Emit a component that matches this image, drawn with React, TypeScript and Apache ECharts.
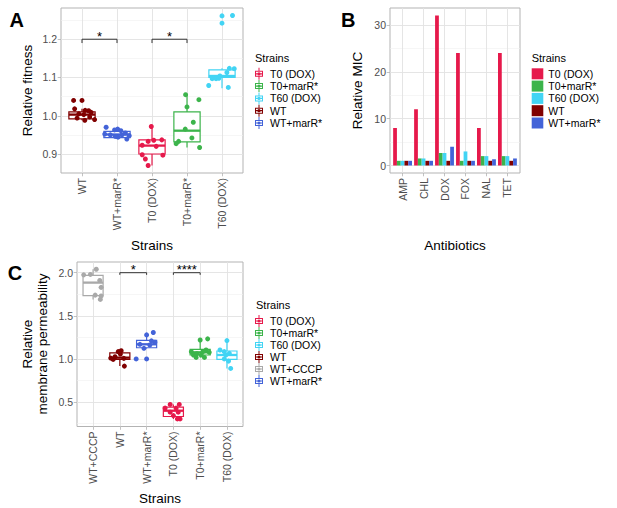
import React, { useEffect, useRef } from 'react';
import * as echarts from 'echarts';

const FONT = '"Liberation Sans", Arial, Helvetica, sans-serif';

// ---------- colours per strain ----------
const strainNames = ['T0 (DOX)', 'T0+marR*', 'T60 (DOX)', 'WT', 'WT+CCCP', 'WT+marR*'];
const strainColors = ['#E6194B', '#3CB44B', '#42D4F4', '#800000', '#A9A9A9', '#4363D8'];
const colorOf = (n: string) => strainColors[strainNames.indexOf(n)];

// ---------- Panel A: relative fitness ----------
const fitnessStrains = ['WT', 'WT+marR*', 'T0 (DOX)', 'T0+marR*', 'T60 (DOX)'];
const fitnessTicks = [0.9, 1.0, 1.1, 1.2];
const fitnessMinor = [0.95, 1.05, 1.15, 1.25];
// box summaries: [lower whisker, Q1, median, Q3, upper whisker]
const fitBoxWT = [0.988, 0.992, 1.003, 1.01, 1.018];
const fitBoxWTmarR = [0.939, 0.943, 0.951, 0.959, 0.97];
const fitBoxT0 = [0.87, 0.9, 0.922, 0.937, 0.972];
const fitBoxT0marR = [0.917, 0.932, 0.961, 1.01, 1.055];
const fitBoxT60 = [1.072, 1.1, 1.104, 1.12, 1.124];
// individual replicates and their jitter offsets (category units)
const fitPtsWT = [1.04, 1.04, 1.018, 1.014, 1.013, 1.009, 1.005, 1.003, 0.994, 0.988, 0.99, 0.997];
const fitJitWT = [-0.24, 0.0, -0.21, 0.09, 0.19, 0.26, -0.09, 0.05, -0.14, 0.08, 0.36, 0.22];
const fitPtsWTmarR = [0.97, 0.963, 0.965, 0.961, 0.952, 0.95, 0.95, 0.955, 0.948, 0.944, 0.939, 0.946];
const fitJitWTmarR = [-0.31, -0.07, 0.02, 0.11, -0.35, -0.19, 0.14, 0.24, 0.35, 0.03, 0.28, -0.05];
const fitPtsT0 = [0.972, 0.933, 0.936, 0.937, 0.923, 0.92, 0.898, 0.897, 0.887, 0.87];
const fitJitT0 = [-0.02, -0.11, 0.05, 0.28, -0.28, 0.12, -0.28, 0.31, -0.19, -0.11];
const fitPtsT0marR = [1.055, 1.042, 1.023, 0.983, 0.965, 0.942, 0.933, 0.927, 0.917];
const fitJitT0marR = [-0.04, 0.34, 0.0, 0.18, -0.05, 0.14, -0.24, -0.31, 0.36];
const fitPtsT60 = [1.261, 1.262, 1.242, 1.079, 1.074, 1.097, 1.097, 1.098, 1.113, 1.124, 1.123, 1.104];
const fitJitT60 = [0.0, 0.3, 0.0, -0.38, 0.18, -0.28, -0.17, -0.09, 0.14, 0.21, 0.35, -0.06];
const sigAFrom = [1, 3];
const sigATo = [2, 4];
const sigAY = [1.2, 1.2];
const sigALabel = ['*', '*'];

// ---------- Panel B: relative MIC ----------
const antibiotics = ['AMP', 'CHL', 'DOX', 'FOX', 'NAL', 'TET'];
const micStrains = ['T0 (DOX)', 'T0+marR*', 'T60 (DOX)', 'WT', 'WT+marR*'];
const micT0 = [8, 12, 32, 24, 8, 24];
const micT0marR = [1, 1.5, 2.67, 1, 2, 2];
const micT60 = [1, 1.5, 2.67, 3, 2, 2];
const micWT = [1, 1, 1, 1, 1, 1];
const micWTmarR = [1, 1, 4, 1, 1.33, 1.5];
const micTicks = [0, 10, 20, 30];
const micMinor = [5, 15, 25];

// ---------- Panel C: membrane permeability ----------
const permStrains = ['WT+CCCP', 'WT', 'WT+marR*', 'T0 (DOX)', 'T0+marR*', 'T60 (DOX)'];
const permTicks = [0.5, 1.0, 1.5, 2.0];
const permMinor = [0.25, 0.75, 1.25, 1.75];
const permBoxCCCP = [1.69, 1.735, 1.885, 1.97, 2.04];
const permBoxWT = [0.917, 0.995, 1.015, 1.07, 1.096];
const permBoxWTmarR = [1.12, 1.13, 1.17, 1.215, 1.3];
const permBoxT0 = [0.305, 0.333, 0.4, 0.442, 0.473];
const permBoxT0marR = [1.018, 1.046, 1.077, 1.112, 1.22];
const permBoxT60 = [0.89, 0.995, 1.046, 1.092, 1.213];
const permPtsCCCP = [2.04, 1.975, 1.98, 1.91, 1.83, 1.74, 1.73, 1.69];
const permJitCCCP = [0.12, -0.35, -0.1, 0.25, 0.3, 0.08, 0.3, 0.27];
const permPtsWT = [1.085, 1.096, 1.057, 1.026, 1.01, 0.995, 1.007, 0.917];
const permJitWT = [-0.06, 0.05, 0.02, -0.18, -0.34, -0.25, 0.15, 0.17];
const permPtsWTmarR = [1.279, 1.307, 1.0, 1.0, 1.17, 1.162, 1.194, 1.123, 1.21];
const permJitWTmarR = [0.0, 0.25, -0.39, 0.0, -0.25, 0.12, 0.31, -0.1, 0.18];
const permPtsT0 = [0.473, 0.473, 0.43, 0.43, 0.383, 0.383, 0.344, 0.305, 0.305];
const permJitT0 = [-0.12, 0.22, -0.31, 0.1, -0.12, 0.18, 0.0, 0.25, 0.15];
const permPtsT0marR = [1.233, 1.22, 1.085, 1.018, 1.018, 1.104, 1.077, 1.046, 1.046, 1.061, 1.085];
const permJitT0marR = [0.28, 0.0, -0.33, -0.15, 0.16, 0.22, 0.34, 0.04, -0.25, -0.12, 0.1];
const permPtsT60 = [1.213, 1.104, 1.085, 1.065, 1.046, 1.0, 0.975, 0.89];
const permJitT60 = [0.0, -0.26, -0.1, 0.09, -0.04, -0.1, 0.06, 0.14];
const sigCFrom = [2, 4];
const sigCTo = [3, 5];
const sigCY = [2.0, 2.0];
const sigCLabel = ['*', '****'];

const legendA = ['T0 (DOX)', 'T0+marR*', 'T60 (DOX)', 'WT', 'WT+marR*'];
const legendC = ['T0 (DOX)', 'T0+marR*', 'T60 (DOX)', 'WT', 'WT+CCCP', 'WT+marR*'];

// ---------- helpers ----------
const TICK_COLOR = '#B3B3B3';
const GRID_MAJOR = '#E2E2E2';
const GRID_MINOR = '#F0F0F0';
const LABEL_COLOR = '#4D4D4D';

const boxIcon =
  'path://M0 0L0.01 0.01Z M12 12L11.99 11.99Z M2 3H10V9H2Z M3 4V8H9V4Z M2 5.4H10V6.6H2Z M5.5 0H6.5V3H5.5Z M5.5 9H6.5V12H5.5Z M4.4 6A1.6 1.6 0 1 1 7.6 6A1.6 1.6 0 1 1 4.4 6Z';

function xAxisCat(gridIndex: number, cats: string[]) {
  const vals = cats.map((_, i) => i + 1);
  return {
    type: 'value',
    gridIndex,
    min: 0.4,
    max: cats.length + 0.6,
    axisLine: { show: false, onZero: false },
    axisTick: { show: true, length: 3.3, lineStyle: { color: TICK_COLOR, width: 0.8 }, customValues: vals },
    axisLabel: {
      customValues: vals,
      formatter: (v: number) => cats[Math.round(v) - 1] ?? '',
      rotate: 90,
      fontSize: 10.5,
      color: LABEL_COLOR,
      fontFamily: FONT,
      margin: 5,
    },
    splitLine: { show: true, lineStyle: { color: GRID_MAJOR, width: 0.9 } },
  };
}

function yAxisMajor(gridIndex: number, min: number, max: number, ticks: number[], fmt: (v: number) => string) {
  return {
    type: 'value',
    gridIndex,
    min,
    max,
    axisLine: { show: false, onZero: false },
    axisTick: { show: true, length: 3.3, lineStyle: { color: TICK_COLOR, width: 0.8 }, customValues: ticks },
    axisLabel: { customValues: ticks, formatter: fmt, fontSize: 10.5, color: LABEL_COLOR, fontFamily: FONT, margin: 4 },
    splitLine: { show: true, lineStyle: { color: GRID_MAJOR, width: 0.9 } },
  };
}

function yAxisMinor(gridIndex: number, min: number, max: number, ticks: number[]) {
  return {
    type: 'value',
    gridIndex,
    min,
    max,
    axisLine: { show: false, onZero: false },
    axisTick: { show: false, customValues: ticks },
    axisLabel: { show: false, customValues: ticks },
    splitLine: { show: true, lineStyle: { color: GRID_MINOR, width: 0.6 } },
  };
}

function boxSeries(name: string, pos: number, axis: number, box: number[]) {
  const c = colorOf(name);
  return {
    type: 'custom',
    name,
    silent: true,
    xAxisIndex: axis,
    yAxisIndex: axis * 2,
    itemStyle: { color: c },
    data: [[pos, ...box]],
    renderItem: (_p: any, api: any) => {
      const x = api.value(0);
      const lo = api.coord([x, api.value(1)]);
      const q1 = api.coord([x, api.value(2)]);
      const md = api.coord([x, api.value(3)]);
      const q3 = api.coord([x, api.value(4)]);
      const hi = api.coord([x, api.value(5)]);
      const w = api.size([0.75, 0])[0];
      const cx = q1[0];
      return {
        type: 'group',
        children: [
          { type: 'line', shape: { x1: cx, y1: hi[1], x2: cx, y2: q3[1] }, style: { stroke: c, lineWidth: 1.2 } },
          { type: 'line', shape: { x1: cx, y1: q1[1], x2: cx, y2: lo[1] }, style: { stroke: c, lineWidth: 1.2 } },
          {
            type: 'rect',
            shape: { x: cx - w / 2, y: q3[1], width: w, height: q1[1] - q3[1] },
            style: { fill: '#FFFFFF', stroke: c, lineWidth: 1.2 },
          },
          { type: 'line', shape: { x1: cx - w / 2, y1: md[1], x2: cx + w / 2, y2: md[1] }, style: { stroke: c, lineWidth: 2.3 } },
        ],
      };
    },
  };
}

function pointSeries(name: string, pos: number, axis: number, pts: number[], jit: number[]) {
  return {
    type: 'scatter',
    name,
    silent: true,
    xAxisIndex: axis,
    yAxisIndex: axis * 2,
    symbol: 'circle',
    symbolSize: 5,
    itemStyle: { color: colorOf(name), opacity: 1, borderWidth: 0 },
    data: pts.map((v, i) => [pos + jit[i], v]),
  };
}

function sigSeries(axis: number, from: number[], to: number[], ys: number[], labels: string[], tip: number) {
  return {
    type: 'custom',
    silent: true,
    xAxisIndex: axis,
    yAxisIndex: axis * 2,
    data: from.map((f, i) => [f, to[i], ys[i]]),
    renderItem: (params: any, api: any) => {
      const x1 = api.value(0);
      const x2 = api.value(1);
      const y = api.value(2);
      const p1 = api.coord([x1, y - tip]);
      const p2 = api.coord([x1, y]);
      const p3 = api.coord([x2, y]);
      const p4 = api.coord([x2, y - tip]);
      return {
        type: 'group',
        children: [
          { type: 'polyline', shape: { points: [p1, p2, p3, p4] }, style: { stroke: '#333333', lineWidth: 1, fill: 'none' } },
          {
            type: 'text',
            x: (p2[0] + p3[0]) / 2,
            y: p2[1] - 3,
            style: {
              text: labels[params.dataIndex],
              align: 'center',
              verticalAlign: 'middle',
              fontSize: 13,
              fill: '#000000',
              fontFamily: FONT,
            },
          },
        ],
      };
    },
  };
}

function micSeries(name: string, s: number, values: number[]) {
  const c = colorOf(name);
  return {
    type: 'custom',
    name,
    silent: true,
    xAxisIndex: 1,
    yAxisIndex: 2,
    itemStyle: { color: c },
    data: values.map((v, i) => [i + 1, v]),
    renderItem: (_p: any, api: any) => {
      const x = api.value(0) + (s - 2) * 0.18;
      const v = api.value(1);
      const a = api.coord([x - 0.09, 0]);
      const b = api.coord([x + 0.09, v]);
      return { type: 'rect', shape: { x: a[0], y: b[1], width: b[0] - a[0], height: a[1] - b[1] }, style: { fill: c } };
    },
  };
}

function buildOption() {
  const fitBoxes = [fitBoxWT, fitBoxWTmarR, fitBoxT0, fitBoxT0marR, fitBoxT60];
  const fitPts = [fitPtsWT, fitPtsWTmarR, fitPtsT0, fitPtsT0marR, fitPtsT60];
  const fitJit = [fitJitWT, fitJitWTmarR, fitJitT0, fitJitT0marR, fitJitT60];
  const micVals = [micT0, micT0marR, micT60, micWT, micWTmarR];
  const permBoxes = [permBoxCCCP, permBoxWT, permBoxWTmarR, permBoxT0, permBoxT0marR, permBoxT60];
  const permPts = [permPtsCCCP, permPtsWT, permPtsWTmarR, permPtsT0, permPtsT0marR, permPtsT60];
  const permJit = [permJitCCCP, permJitWT, permJitWTmarR, permJitT0, permJitT0marR, permJitT60];

  const series: any[] = [];
  fitnessStrains.forEach((n, i) => series.push(boxSeries(n, i + 1, 0, fitBoxes[i])));
  fitnessStrains.forEach((n, i) => series.push(pointSeries(n, i + 1, 0, fitPts[i], fitJit[i])));
  series.push(sigSeries(0, sigAFrom, sigATo, sigAY, sigALabel, 0.01));
  micStrains.forEach((n, s) => series.push(micSeries(n, s, micVals[s])));
  permStrains.forEach((n, i) => series.push(boxSeries(n, i + 1, 2, permBoxes[i])));
  permStrains.forEach((n, i) => series.push(pointSeries(n, i + 1, 2, permPts[i], permJit[i])));
  series.push(sigSeries(2, sigCFrom, sigCTo, sigCY, sigCLabel, 0.025));

  const gridBase = {
    show: true,
    borderColor: TICK_COLOR,
    borderWidth: 1,
    backgroundColor: 'rgba(0,0,0,0)',
    containLabel: false,
    outerBoundsMode: 'none',
  };

  const legendBase = {
    orient: 'vertical',
    padding: 0,
    selectedMode: false,
    textStyle: { fontSize: 10.5, color: '#000000', fontFamily: FONT },
  };

  const txt = (text: string, x: number, y: number, o: any = {}) => ({
    type: 'text',
    x,
    y,
    rotation: o.rotation ?? 0,
    silent: true,
    style: {
      text,
      align: o.align ?? 'center',
      verticalAlign: 'middle',
      fontSize: o.fontSize ?? 13.5,
      fontWeight: o.fontWeight ?? 'normal',
      lineHeight: o.lineHeight,
      fill: '#000000',
      fontFamily: FONT,
    },
  });

  return {
    animation: false,
    backgroundColor: '#FFFFFF',
    textStyle: { fontFamily: FONT },
    grid: [
      { ...gridBase, left: 61, top: 8, width: 182, height: 165 },
      { ...gridBase, left: 390, top: 8, width: 130, height: 165 },
      { ...gridBase, left: 77, top: 262, width: 166, height: 164.5 },
    ],
    xAxis: [xAxisCat(0, fitnessStrains), xAxisCat(1, antibiotics), xAxisCat(2, permStrains)],
    yAxis: [
      yAxisMajor(0, 0.8504, 1.2816, fitnessTicks, (v) => v.toFixed(1)),
      yAxisMinor(0, 0.8504, 1.2816, fitnessMinor),
      yAxisMajor(1, -1.6, 33.6, micTicks, (v) => String(Math.round(v))),
      yAxisMinor(1, -1.6, 33.6, micMinor),
      yAxisMajor(2, 0.217, 2.124, permTicks, (v) => v.toFixed(1)),
      yAxisMinor(2, 0.217, 2.124, permMinor),
    ],
    legend: [
      {
        ...legendBase,
        left: 253,
        top: 67.8,
        itemWidth: 12,
        itemHeight: 12,
        itemGap: 0.3,
        data: legendA.map((n) => ({ name: n, icon: boxIcon, itemStyle: { color: colorOf(n), borderWidth: 0 } })),
      },
      {
        ...legendBase,
        left: 531.7,
        top: 68.3,
        itemWidth: 11.6,
        itemHeight: 11,
        itemGap: 1.3,
        data: micStrains.map((n) => ({ name: n, icon: 'rect', itemStyle: { color: colorOf(n), borderWidth: 0 } })),
      },
      {
        ...legendBase,
        left: 253,
        top: 315,
        itemWidth: 12,
        itemHeight: 12,
        itemGap: 0,
        data: legendC.map((n) => ({ name: n, icon: boxIcon, itemStyle: { color: colorOf(n), borderWidth: 0 } })),
      },
    ],
    graphic: [
      txt('A', 16.7, 20, { fontSize: 20, fontWeight: 'bold' }),
      txt('B', 348.3, 20, { fontSize: 20, fontWeight: 'bold' }),
      txt('C', 15, 272.5, { fontSize: 20, fontWeight: 'bold' }),
      txt('Relative fitness', 27, 90.5, { rotation: Math.PI / 2 }),
      txt('Relative MIC', 357.5, 90.5, { rotation: Math.PI / 2 }),
      txt('Relative\nmembrane permeability', 34.8, 344, { rotation: Math.PI / 2, lineHeight: 14.5 }),
      txt('Strains', 152, 245),
      txt('Antibiotics', 455, 245),
      txt('Strains', 160, 498),
      txt('Strains', 255, 58.3, { align: 'left', fontSize: 11 }),
      txt('Strains', 531.7, 58.3, { align: 'left', fontSize: 11 }),
      txt('Strains', 256, 305, { align: 'left', fontSize: 11 }),
    ],
    series,
  };
}

export default function App() {
  const ref = useRef<HTMLDivElement>(null);
  useEffect(() => {
    if (!ref.current) return;
    const chart = echarts.init(ref.current, null, { renderer: 'svg' });
    chart.setOption(buildOption() as any);
    return () => chart.dispose();
  }, []);
  return (
    <div
      ref={ref}
      style={{ position: 'absolute', left: 0, top: 0, width: 617, height: 508, background: '#FFFFFF' }}
    />
  );
}
